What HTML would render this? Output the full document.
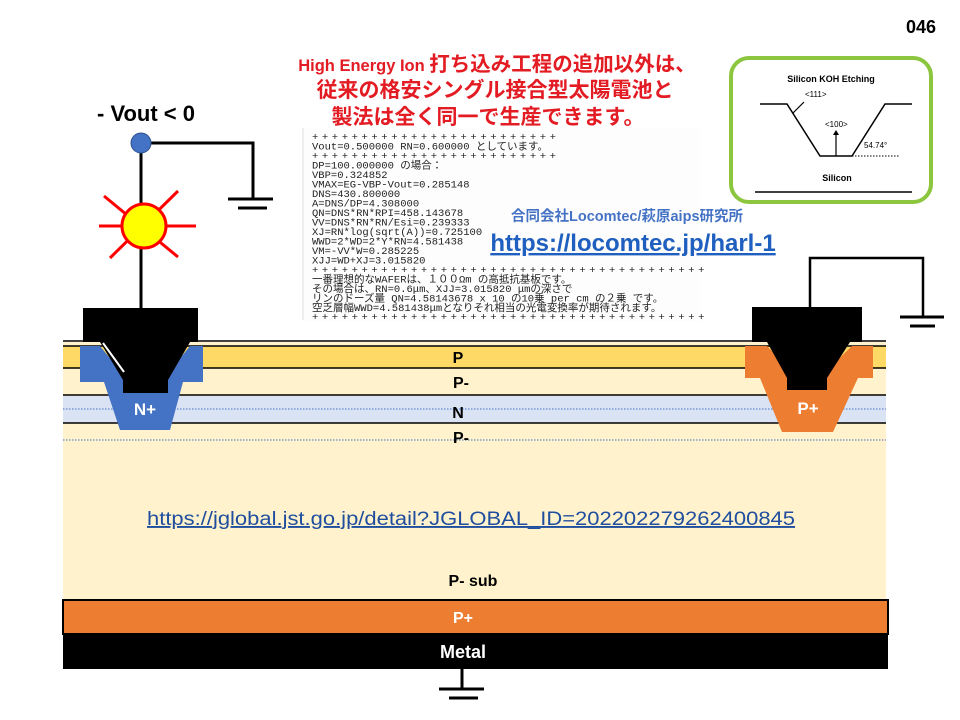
<!DOCTYPE html>
<html><head><meta charset="utf-8"><style>
html,body{margin:0;padding:0;background:#fff;width:960px;height:720px;overflow:hidden}
svg{display:block}
.mono{font-family:"Liberation Mono","Noto Sans CJK JP",monospace;font-size:10.5px;fill:#222}
.pl{letter-spacing:3.6px}
</style></head><body>
<svg width="960" height="720" viewBox="0 0 960 720" xmlns="http://www.w3.org/2000/svg" font-family="Liberation Sans, Noto Sans CJK JP, sans-serif">
<text x="936" y="33" text-anchor="end" font-size="18" font-weight="bold">046</text>
<!-- title -->
<g fill="#e31b23" font-weight="bold" text-anchor="middle" font-family="Liberation Sans, Noto Sans CJK JP, sans-serif">
<text x="497" y="71" font-size="20.5"><tspan font-size="16.5">High Energy Ion </tspan>打ち込み工程の追加以外は、</text>
<text x="495" y="97" font-size="21">従来の格安シングル接合型太陽電池と</text>
<text x="488" y="124" font-size="21">製法は全く同一で生産できます。</text>
</g>
<!-- KOH box -->
<rect x="731" y="58" width="200" height="144" rx="18" fill="#fff" stroke="#8cc63f" stroke-width="4"/>
<text x="831" y="82" text-anchor="middle" font-size="9" font-weight="bold">Silicon KOH Etching</text>
<polyline points="760,104 787,104 820,156 852,156 885,104 912,104" fill="none" stroke="#000" stroke-width="1.5"/>
<line x1="793" y1="113" x2="804" y2="102" stroke="#000" stroke-width="1.2"/>
<text x="805" y="97" font-size="8">&lt;111&gt;</text>
<line x1="836" y1="156" x2="836" y2="133" stroke="#000" stroke-width="1.2"/>
<path d="M833,135 L836,130 L839,135Z"/>
<text x="825" y="127" font-size="8">&lt;100&gt;</text>
<line x1="852" y1="156" x2="900" y2="156" stroke="#000" stroke-dasharray="1.5,1.5"/>
<text x="864" y="148" font-size="8">54.74°</text>
<text x="837" y="181" text-anchor="middle" font-size="9" font-weight="bold">Silicon</text>
<line x1="755" y1="192" x2="912" y2="192" stroke="#000" stroke-width="1.5"/>
<!-- Vout -->
<text x="146" y="121" text-anchor="middle" font-size="22" font-weight="bold">- Vout &lt; 0</text>
<polyline points="141,143 253,143 253,199" fill="none" stroke="#000" stroke-width="3"/>
<line x1="228" y1="199" x2="273" y2="199" stroke="#000" stroke-width="3"/>
<line x1="238" y1="208" x2="267" y2="208" stroke="#000" stroke-width="3"/>
<line x1="141" y1="143" x2="141" y2="310" stroke="#000" stroke-width="3"/>
<circle cx="141" cy="143" r="10" fill="#4472c4" stroke="#2f528f"/>
<g stroke="#ff0000" stroke-width="3">
<line x1="99" y1="226" x2="196" y2="226"/>
<line x1="104" y1="196" x2="178" y2="257"/>
<line x1="178" y1="191" x2="110" y2="258"/>
</g>
<circle cx="144" cy="226" r="22" fill="#ffff00" stroke="#ff0000" stroke-width="3"/>
<!-- right wire -->
<polyline points="810,308 810,258 923,258 923,317" fill="none" stroke="#000" stroke-width="2.5"/>
<line x1="900" y1="317" x2="944" y2="317" stroke="#000" stroke-width="3"/>
<line x1="910" y1="326" x2="935" y2="326" stroke="#000" stroke-width="3"/>
<!-- text block -->
<rect x="302" y="128" width="398" height="194" fill="#fdfdfd"/>
<line x1="303" y1="128" x2="303" y2="320" stroke="#ddd"/>
<g class="mono">
<text x="312" y="140" class="pl">+++++++++++++++++++++++++</text>
<text x="312" y="149.5">Vout=0.500000   RN=0.600000 としています。</text>
<text x="312" y="159" class="pl">+++++++++++++++++++++++++</text>
<text x="312" y="168.5">DP=100.000000 の場合：</text>
<text x="312" y="178">VBP=0.324852</text>
<text x="312" y="187.5">VMAX=EG-VBP-Vout=0.285148</text>
<text x="312" y="197">DNS=430.800000</text>
<text x="312" y="206.5">A=DNS/DP=4.308000</text>
<text x="312" y="216">QN=DNS*RN*RPI=458.143678</text>
<text x="312" y="225.5">VV=DNS*RN*RN/Esi=0.239333</text>
<text x="312" y="235">XJ=RN*log(sqrt(A))=0.725100</text>
<text x="312" y="244.5">WWD=2*WD=2*Y*RN=4.581438</text>
<text x="312" y="254">VM=-VV*W=0.285225</text>
<text x="312" y="263.5">XJJ=WD+XJ=3.015820</text>
<text x="312" y="273" class="pl">++++++++++++++++++++++++++++++++++++++++</text>
<text x="312" y="282.5">一番理想的なWAFERは、１００Ωm の高抵抗基板です。</text>
<text x="312" y="292">その場合は、RN=0.6μm、XJJ=3.015820 μmの深さで</text>
<text x="312" y="301.5">リンのドーズ量  QN=4.58143678 x 10 の10乗  per cm の２乗  です。</text>
<text x="312" y="311">空乏層幅WWD=4.581438μmとなりそれ相当の光電変換率が期待されます。</text>
<text x="312" y="320" class="pl">++++++++++++++++++++++++++++++++++++++++</text>
</g>
<text x="627" y="221" text-anchor="middle" font-size="14.5" font-weight="bold" fill="#4472c4">合同会社Locomtec/萩原aips研究所</text>
<text x="633" y="251" text-anchor="middle" font-size="24" font-weight="bold" fill="#1f5fbf" text-decoration="underline">https://locomtec.jp/harl-1</text>
<!-- layers -->
<rect x="63" y="342" width="823" height="258" fill="#fff2cc"/>
<rect x="63" y="346" width="823" height="22" fill="#ffd966"/>
<rect x="63" y="396" width="823" height="27" fill="#dae3f3"/>
<g stroke="#000" stroke-width="1.5">
<line x1="63" y1="341" x2="886" y2="341"/>
<line x1="63" y1="346" x2="886" y2="346"/>
<line x1="63" y1="368" x2="886" y2="368"/>
<line x1="63" y1="395" x2="886" y2="395"/>
<line x1="63" y1="423" x2="886" y2="423"/>
</g>
<line x1="63" y1="409" x2="886" y2="409" stroke="#4472c4" stroke-dasharray="1.5,1.5"/>
<line x1="63" y1="440" x2="886" y2="440" stroke="#4472c4" stroke-dasharray="1.5,1.5"/>
<!-- left contact -->
<polygon points="80,346 100,346 130,383 160,383 190,346 203,346 203,382 183,382 170,430 120,430 104,382 80,382" fill="#4472c4"/>
<polygon points="83,308 198,308 198,342 168,342 168,393 123,393 123,342 83,342" fill="#000"/>
<polygon points="100,342 190,342 168,380 123,380" fill="#000"/>
<polyline points="103,343 124,372 M166,372 187,343" fill="none" stroke="#fff" stroke-width="2"/>
<text x="145" y="415" text-anchor="middle" font-size="17" font-weight="bold" fill="#fff">N+</text>
<!-- right contact -->
<polygon points="745,346 767,346 795,375 822,375 852,346 873,346 873,378 858,378 833,432 782,432 760,378 745,378" fill="#ed7d31"/>
<polygon points="752,307 862,307 862,342 827,342 827,390 787,390 787,342 752,342" fill="#000"/>
<polygon points="767,342 850,342 827,378 787,378" fill="#000"/>
<text x="808" y="414" text-anchor="middle" font-size="17" font-weight="bold" fill="#fff">P+</text>
<!-- labels -->
<g font-size="16" font-weight="bold" text-anchor="middle">
<text x="458" y="363">P</text>
<text x="461" y="388">P-</text>
<text x="458" y="418">N</text>
<text x="461" y="443">P-</text>
<text x="473" y="586">P- sub</text>
</g>
<text x="147" y="525" font-size="19" fill="#1f4e9f" text-decoration="underline" textLength="648" lengthAdjust="spacingAndGlyphs">https://jglobal.jst.go.jp/detail?JGLOBAL_ID=202202279262400845</text>
<!-- bottom -->
<rect x="63" y="600" width="825" height="34" fill="#ed7d31" stroke="#000" stroke-width="2"/>
<rect x="63" y="633" width="825" height="36" fill="#000"/>
<text x="463" y="623" text-anchor="middle" font-size="16" font-weight="bold" fill="#fff">P+</text>
<text x="463" y="658" text-anchor="middle" font-size="18" font-weight="bold" fill="#fff">Metal</text>
<line x1="462" y1="669" x2="462" y2="689" stroke="#000" stroke-width="3"/>
<line x1="439" y1="689" x2="484" y2="689" stroke="#000" stroke-width="3"/>
<line x1="449" y1="698" x2="478" y2="698" stroke="#000" stroke-width="3"/>
</svg>
</body></html>
